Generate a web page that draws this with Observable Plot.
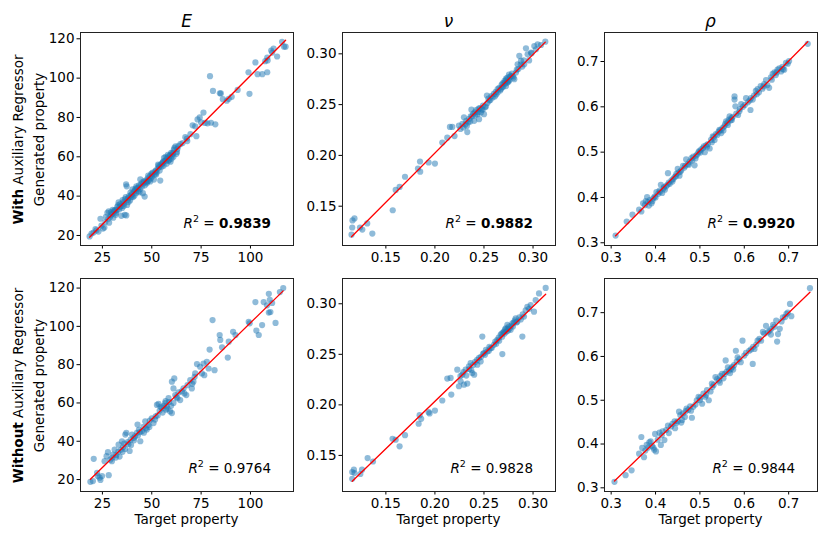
<!DOCTYPE html>
<html><head><meta charset="utf-8">
<script src="https://cdn.jsdelivr.net/npm/d3@7"></script>
<script src="https://cdn.jsdelivr.net/npm/@observablehq/plot@0.6"></script>
<style>
html,body{margin:0;padding:0;background:#fff;}
#fig{position:relative;width:831px;height:541px;overflow:hidden;background:#fff;font-family:"DejaVu Sans";}
#fig svg{position:absolute;}
</style></head><body><div id="fig"></div>
<script>
// ---------- labels ----------
const properties = ["E", "ν", "ρ"];
const rowNames = ["With", "Without"];
const r2With = ["0.9839", "0.9882", "0.9920"];
const r2Without = ["0.9764", "0.9828", "0.9844"];
const ticksE = [25, 50, 75, 100];
const yTicksE = [20, 40, 60, 80, 100, 120];
const ticksNu = [0.15, 0.20, 0.25, 0.30];
const ticksRho = [0.3, 0.4, 0.5, 0.6, 0.7];

// ---------- data: [target, generated] ----------
const eWith = [[18.5,19.5],[19.5,21],[20.5,21.5],[21.5,23.3],[22,22.6],[23,22],[24,28.5],[25.3,23.5],[26,24],[24.5,25],[26.5,26.8],[27.5,31.5],[28.2,32.3],[28.4,26.5],[28,28.5],[29,29.5],[29.5,30.5],[30,31],[30.5,29],[31,32],[31.5,33],[32,31.5],[32.5,34.5],[33,35.5],[33.5,33.2],[34,36],[34.6,30],[35,34],[35.5,37],[36,36.3],[36.3,30.5],[36.5,38.5],[37,46],[37.3,45],[37.1,30.2],[37.5,35.5],[38,39],[38.5,40],[39,37.8],[39.5,40.5],[40,41],[40.5,39.5],[41,42.3],[41.5,43],[42,41.5],[42.5,44],[43,42.5],[43.5,45.5],[44,43.5],[44.5,46],[45,44.8],[45.5,41.5],[46.4,39.8],[46,47.5],[46.5,45.5],[47,48],[47.5,46.5],[48,49],[48.5,48],[49,50],[49.5,49],[50,51],[50.5,52],[51.1,48.4],[51.5,51],[52,53],[52.5,52],[53,54],[53.5,55.5],[54.3,47.9],[54,53],[54.5,56],[55,55],[55.5,57],[56,55.5],[56.5,58],[57,60],[57.5,56.5],[58,59],[58.5,58],[59,60.5],[59.4,61],[59.5,57.5],[60,59],[60.5,62],[61.2,63.6],[61,60],[62,65.3],[62.5,61.5],[63,64],[64.5,66.5],[65.6,67],[67,70],[67.8,69.3],[68,68],[69.6,71.5],[70.7,76],[72,75.5],[72.6,70.5],[73.2,79],[74.3,80],[75,77.5],[76.2,82.5],[77,77.2],[78.2,77],[79.5,101],[80,77.3],[81,93.5],[82.2,76.5],[84.5,92.3],[85,92.2],[86,89.3],[88,88.5],[89,89.5],[90.5,90.5],[93.5,94],[99.5,92],[99,103],[102.5,108],[103.6,102],[106,102],[108.5,103],[107.5,108.6],[108.7,109],[108.5,110.5],[110.5,114],[111,113],[111.7,115],[113.5,111],[116,118.5],[117,116],[117.8,116],[30.2,33],[31.8,30.5],[33.2,36.8],[34.5,35],[35.2,38],[36.8,39.5],[38.2,37],[39.2,41.8],[40.2,43.5],[41.2,40.2],[42.2,45],[43.2,44.2],[44.2,48.5],[45.2,47],[47.2,47.2],[48.2,50.5],[49.2,47.5],[50.2,50],[52.2,51],[53.2,56],[55.2,56.5],[56.2,59.5],[57.2,58],[58.2,61],[60.2,60.5],[61.5,64.5],[62.8,62.5],[63.5,65.5],[26.8,29.5],[29.3,31.8],[30.8,32.5],[32.3,33],[33.8,34.5],[35.8,35],[37.8,38.2],[39.8,39.5],[41.8,43.8],[43.8,42],[45.8,46.5],[47.8,47.5],[49.8,51.5],[51.8,52.5],[53.8,54.8],[55.8,57.5],[57.8,59.5],[59.8,62],[60.8,61.5],[58.8,58.5]];

const nuWith = [[0.115,0.122],[0.1157,0.129],[0.116,0.136],[0.118,0.138],[0.1236,0.129],[0.126,0.127],[0.131,0.133],[0.1362,0.123],[0.157,0.146],[0.160,0.166],[0.164,0.169],[0.1695,0.179],[0.1827,0.187],[0.1848,0.194],[0.185,0.184],[0.1936,0.193],[0.200,0.192],[0.2075,0.2126],[0.2126,0.2175],[0.2153,0.228],[0.2177,0.228],[0.22,0.219],[0.2245,0.2294],[0.226,0.226],[0.228,0.231],[0.229,0.2275],[0.2296,0.2375],[0.231,0.2305],[0.232,0.234],[0.233,0.223],[0.234,0.2325],[0.235,0.236],[0.236,0.2335],[0.2372,0.245],[0.238,0.2385],[0.239,0.241],[0.24,0.234],[0.241,0.2395],[0.242,0.2445],[0.2434,0.2406],[0.244,0.2425],[0.245,0.2357],[0.246,0.2465],[0.2469,0.2423],[0.2486,0.245],[0.249,0.249],[0.25,0.2406],[0.251,0.2475],[0.252,0.2482],[0.253,0.259],[0.2535,0.2515],[0.2554,0.254],[0.2565,0.2545],[0.2575,0.2585],[0.2588,0.2571],[0.26,0.2605],[0.261,0.258],[0.262,0.2625],[0.2639,0.2653],[0.264,0.262],[0.2655,0.2665],[0.2665,0.264],[0.2673,0.2653],[0.268,0.2695],[0.269,0.271],[0.2695,0.2675],[0.2707,0.2716],[0.271,0.2735],[0.2715,0.2705],[0.2724,0.2683],[0.273,0.2745],[0.2735,0.2715],[0.274,0.2765],[0.2745,0.273],[0.275,0.2725],[0.2758,0.274],[0.2765,0.2775],[0.2775,0.278],[0.2792,0.278],[0.28,0.2765],[0.2809,0.275],[0.2826,0.2815],[0.2843,0.2897],[0.285,0.285],[0.286,0.298],[0.2877,0.293],[0.289,0.2875],[0.291,0.2897],[0.2928,0.3054],[0.2945,0.2995],[0.296,0.2935],[0.2979,0.3012],[0.3013,0.3077],[0.303,0.3045],[0.3047,0.3094],[0.3081,0.3087],[0.3125,0.312],[0.2325,0.229],[0.2365,0.2385],[0.2405,0.2425],[0.2445,0.246],[0.2475,0.2455],[0.2545,0.256],[0.2625,0.26],[0.2685,0.267],[0.2725,0.2755],[0.2755,0.2795],[0.2785,0.2805],[0.2835,0.2845],[0.2875,0.2895],[0.2905,0.2935],[0.2985,0.3005]];

const rhoWith = [[0.31,0.316],[0.335,0.347],[0.348,0.362],[0.363,0.373],[0.368,0.369],[0.372,0.387],[0.376,0.383],[0.378,0.392],[0.381,0.401],[0.383,0.39],[0.385,0.382],[0.387,0.394],[0.391,0.387],[0.395,0.398],[0.398,0.402],[0.402,0.412],[0.406,0.408],[0.409,0.415],[0.412,0.428],[0.415,0.41],[0.418,0.42],[0.421,0.417],[0.424,0.425],[0.427,0.428],[0.428,0.4535],[0.432,0.43],[0.436,0.438],[0.44,0.441],[0.443,0.445],[0.447,0.452],[0.45,0.463],[0.452,0.455],[0.454,0.448],[0.458,0.46],[0.462,0.47],[0.465,0.466],[0.469,0.484],[0.473,0.474],[0.477,0.479],[0.481,0.487],[0.485,0.49],[0.488,0.471],[0.491,0.492],[0.494,0.495],[0.497,0.5],[0.499,0.503],[0.503,0.506],[0.507,0.509],[0.511,0.5],[0.514,0.515],[0.518,0.518],[0.522,0.508],[0.525,0.527],[0.529,0.535],[0.533,0.527],[0.536,0.54],[0.539,0.538],[0.542,0.545],[0.544,0.549],[0.548,0.542],[0.551,0.553],[0.555,0.557],[0.557,0.562],[0.559,0.568],[0.562,0.565],[0.565,0.572],[0.567,0.579],[0.569,0.57],[0.571,0.575],[0.574,0.578],[0.578,0.623],[0.578,0.616],[0.58,0.601],[0.582,0.585],[0.586,0.582],[0.59,0.595],[0.593,0.606],[0.597,0.6],[0.601,0.604],[0.604,0.619],[0.608,0.61],[0.614,0.593],[0.615,0.619],[0.619,0.616],[0.622,0.625],[0.626,0.635],[0.63,0.639],[0.633,0.632],[0.637,0.646],[0.641,0.64],[0.645,0.65],[0.649,0.659],[0.652,0.648],[0.656,0.642],[0.66,0.665],[0.664,0.673],[0.668,0.676],[0.671,0.67],[0.675,0.682],[0.679,0.685],[0.683,0.678],[0.686,0.688],[0.69,0.682],[0.694,0.697],[0.698,0.695],[0.701,0.701],[0.743,0.739],[0.393,0.392],[0.4,0.4],[0.41,0.412],[0.419,0.423],[0.43,0.433],[0.438,0.435],[0.446,0.447],[0.456,0.457],[0.467,0.47],[0.475,0.472],[0.483,0.482],[0.49,0.486],[0.501,0.499],[0.509,0.513],[0.516,0.512],[0.527,0.522],[0.531,0.533],[0.546,0.548],[0.553,0.548],[0.563,0.56],[0.572,0.571],[0.589,0.59],[0.612,0.614],[0.628,0.628],[0.643,0.645],[0.662,0.66],[0.673,0.676],[0.687,0.683]];

const eWithout = [[18.9,18.8],[20.2,19.2],[20.6,30.8],[22.3,23.5],[22.6,21.8],[23.6,21],[24,19.8],[24.8,21.8],[28.2,22.3],[26.1,29.6],[27.1,32.2],[27.8,34.3],[29,30.4],[29.8,29.6],[30.5,33],[31.2,35.6],[32,32.8],[33.2,38.2],[33.7,32],[34.3,35.5],[34.9,40],[35.5,37],[36,38.8],[36.6,43.5],[37.1,44.4],[37.8,39.5],[38.8,34.9],[39.3,40.8],[40,43.5],[40.8,41.7],[41.5,42.5],[42.5,44.4],[42.8,48.7],[43.5,46],[44.2,40],[45,45.2],[45.8,47.5],[46.7,50.4],[47.5,46.1],[48.3,48.5],[49,50.8],[50,52],[50.9,49.5],[51.7,51.3],[52.6,59],[53.4,59.5],[54,56],[55.1,57.3],[56,58.5],[56.8,59.9],[57.6,58.2],[58.5,62.5],[59.3,55.6],[60.2,54.7],[60.2,71.1],[61.4,72.8],[61,67.6],[61.9,64.1],[62.5,63],[63.5,65.5],[64.4,61.5],[65.2,66],[66.1,67.6],[67.5,64.1],[68.1,69.3],[69.5,71.9],[70.3,67.6],[71.1,71.1],[71.7,73.7],[72,75.4],[72.9,80.3],[74.5,78.9],[75.4,75.4],[76.2,80.6],[76.6,74.5],[77.9,81.5],[78.8,78],[79.3,87.9],[81.8,77.1],[80.8,103.3],[84.4,95.5],[84.7,92.9],[85.6,89.1],[88.5,83.7],[89,92],[91.2,97.2],[92.4,95.5],[99.1,102.4],[99.6,101.6],[102.5,112.7],[103,97.8],[104.2,95.5],[105.9,100.7],[106.7,112.7],[108.4,111],[109.3,117],[109.8,113.9],[109.3,107.2],[110.1,107.5],[111,112.2],[112.7,101.8],[114.9,117.9],[116.6,120],[31.8,31.5],[35.2,34.5],[38.2,38.5],[41,40.5],[44,44.8],[47,46.8],[52,53],[55.5,55],[57.2,56.5],[58.8,60.5],[59.8,58.5],[30,31.5],[33,34.5],[36.5,36],[39.5,38],[43,43],[46,44.5],[48.8,47.5],[53,53.5],[54.5,58],[57,61],[58,57],[61,60],[63,62.5],[66.5,65],[70.5,70]];

const nuWithout = [[0.1157,0.1268],[0.1157,0.1336],[0.1174,0.1359],[0.118,0.1326],[0.124,0.1316],[0.1257,0.1359],[0.1314,0.1474],[0.1369,0.144],[0.1568,0.1665],[0.16,0.1655],[0.164,0.159],[0.1695,0.17],[0.1844,0.1898],[0.1834,0.1813],[0.186,0.1862],[0.1936,0.1928],[0.1946,0.1915],[0.2,0.1944],[0.2075,0.2043],[0.2167,0.2102],[0.2126,0.226],[0.216,0.2266],[0.2245,0.2184],[0.2262,0.2233],[0.2228,0.2348],[0.2296,0.22],[0.233,0.2211],[0.2279,0.2299],[0.2313,0.2348],[0.2347,0.2381],[0.2381,0.2315],[0.24,0.2299],[0.2364,0.2414],[0.2432,0.2397],[0.2466,0.243],[0.2483,0.2676],[0.25,0.2512],[0.2534,0.2528],[0.2568,0.2561],[0.2602,0.2594],[0.2636,0.2643],[0.2687,0.2502],[0.267,0.2692],[0.2704,0.2725],[0.2721,0.2758],[0.2738,0.2791],[0.2772,0.2742],[0.2789,0.2807],[0.2823,0.2856],[0.284,0.2823],[0.2891,0.2676],[0.2908,0.2873],[0.2942,0.297],[0.2976,0.2987],[0.301,0.2922],[0.3027,0.3036],[0.3061,0.3102],[0.3129,0.3157],[0.226,0.2285],[0.229,0.2325],[0.232,0.229],[0.235,0.2355],[0.237,0.2345],[0.239,0.2395],[0.241,0.2425],[0.243,0.2445],[0.245,0.2465],[0.247,0.2475],[0.249,0.2505],[0.251,0.2495],[0.252,0.2545],[0.255,0.2535],[0.2555,0.2575],[0.258,0.2565],[0.2615,0.2625],[0.2625,0.2605],[0.265,0.2665],[0.2655,0.2635],[0.268,0.2705],[0.2685,0.2675],[0.2695,0.2715],[0.271,0.2705],[0.2715,0.2745],[0.273,0.2725],[0.274,0.2755],[0.2745,0.2735],[0.2755,0.2775],[0.276,0.2755],[0.278,0.2785],[0.2795,0.2775],[0.2805,0.2815],[0.2815,0.2835],[0.283,0.2815],[0.286,0.2865],[0.2875,0.2845],[0.2895,0.2895],[0.2925,0.2935],[0.296,0.295]];

const rhoWithout = [[0.3075,0.3136],[0.3325,0.3288],[0.346,0.34],[0.363,0.378],[0.368,0.416],[0.37,0.391],[0.374,0.37],[0.38,0.398],[0.386,0.404],[0.389,0.406],[0.397,0.387],[0.401,0.383],[0.399,0.423],[0.409,0.426],[0.412,0.398],[0.42,0.409],[0.416,0.429],[0.428,0.442],[0.435,0.44],[0.444,0.436],[0.447,0.448],[0.453,0.474],[0.458,0.449],[0.462,0.47],[0.47,0.481],[0.482,0.46],[0.485,0.485],[0.497,0.508],[0.505,0.492],[0.512,0.508],[0.516,0.523],[0.52,0.5],[0.527,0.538],[0.535,0.553],[0.543,0.545],[0.55,0.56],[0.558,0.591],[0.566,0.568],[0.573,0.576],[0.581,0.613],[0.585,0.598],[0.592,0.587],[0.596,0.636],[0.6,0.602],[0.611,0.613],[0.619,0.583],[0.623,0.617],[0.63,0.636],[0.638,0.636],[0.642,0.656],[0.649,0.67],[0.657,0.659],[0.661,0.663],[0.672,0.682],[0.674,0.634],[0.676,0.651],[0.68,0.663],[0.687,0.689],[0.695,0.697],[0.703,0.72],[0.706,0.692],[0.748,0.756],[0.383,0.392],[0.392,0.396],[0.405,0.41],[0.424,0.432],[0.438,0.446],[0.45,0.452],[0.456,0.466],[0.466,0.462],[0.474,0.478],[0.478,0.486],[0.49,0.49],[0.493,0.5],[0.501,0.506],[0.508,0.515],[0.524,0.52],[0.531,0.535],[0.539,0.548],[0.546,0.555],[0.553,0.55],[0.56,0.565],[0.563,0.575],[0.57,0.572],[0.577,0.58],[0.589,0.594],[0.604,0.608],[0.615,0.616],[0.627,0.627],[0.634,0.64],[0.645,0.652],[0.653,0.655],[0.665,0.672],[0.684,0.68],[0.698,0.7],[0.377,0.385],[0.395,0.392],[0.414,0.42],[0.43,0.425],[0.443,0.452],[0.46,0.455],[0.468,0.475],[0.48,0.476],[0.5,0.5],[0.514,0.512],[0.528,0.53],[0.545,0.54],[0.556,0.56],[0.568,0.562],[0.575,0.57],[0.583,0.588],[0.62,0.622],[0.66,0.65],[0.668,0.668],[0.692,0.69]];

// ---------- layout ----------
const S = 213, ML = 50, MR = 6, MT = 8, MB = 30;
const colLeft = [80, 342, 604];
const rowTop = [32, 278];
const fig = document.getElementById("fig");

const specs = [
  {data: eWith, row: 0, col: 0, xd: [13.9, 121.8], yd: [14.9, 123.2], xt: ticksE, yt: yTicksE, xf: d3.format("d"), yf: d3.format("d"), r2: r2With[0], bold: true},
  {data: nuWith, row: 0, col: 1, xd: [0.1058, 0.3229], yd: [0.1113, 0.321], xt: ticksNu, yt: ticksNu, xf: d3.format(".2f"), yf: d3.format(".2f"), r2: r2With[1], bold: true},
  {data: rhoWith, row: 0, col: 2, xd: [0.285, 0.765], yd: [0.294, 0.764], xt: ticksRho, yt: ticksRho, xf: d3.format(".1f"), yf: d3.format(".1f"), r2: r2With[2], bold: true},
  {data: eWithout, row: 1, col: 0, xd: [13.9, 121.8], yd: [13.76, 125.0], xt: ticksE, yt: yTicksE, xf: d3.format("d"), yf: d3.format("d"), r2: r2Without[0], bold: false},
  {data: nuWithout, row: 1, col: 1, xd: [0.1058, 0.3229], yd: [0.1143, 0.325], xt: ticksNu, yt: ticksNu, xf: d3.format(".2f"), yf: d3.format(".2f"), r2: r2Without[1], bold: false},
  {data: rhoWithout, row: 1, col: 2, xd: [0.285, 0.765], yd: [0.2916, 0.778], xt: ticksRho, yt: ticksRho, xf: d3.format(".1f"), yf: d3.format(".1f"), r2: r2Without[2], bold: false}
];

for (const s of specs) {
  const p = Plot.plot({
    width: S + ML + MR, height: S + MT + MB,
    marginLeft: ML, marginRight: MR, marginTop: MT, marginBottom: MB,
    style: {fontFamily: "DejaVu Sans", fontSize: "13.5px", background: "transparent", color: "#000", overflow: "visible"},
    x: {domain: s.xd, ticks: s.xt, tickFormat: s.xf, tickSize: 3.5, tickPadding: 3.5, label: null},
    y: {domain: s.yd, ticks: s.yt, tickFormat: s.yf, tickSize: 3.5, tickPadding: 2.5, label: null},
    marks: [
      Plot.dot(s.data, {x: d => d[0], y: d => d[1], r: 3.1, fill: "#1f77b4", fillOpacity: 0.5}),
      Plot.linearRegressionY(s.data, {x: d => d[0], y: d => d[1], stroke: "#ff0000", strokeWidth: 1.3, ci: 0}),
      Plot.frame({stroke: "#222", strokeWidth: 1})
    ]
  });
  p.style.left = (colLeft[s.col] - ML) + "px";
  p.style.top = (rowTop[s.row] - MT) + "px";
  const t = d3.select(p).append("text")
    .attr("x", ML + S - 22).attr("y", MT + S - (s.row === 0 ? 17 : 18))
    .attr("text-anchor", "end").attr("font-size", 13.5).attr("fill", "#000")
    .attr("font-family", "DejaVu Sans");
  t.append("tspan").attr("font-style", "italic").text("R");
  t.append("tspan").attr("font-size", 9.5).attr("dy", -6.5).text("2");
  t.append("tspan").attr("dy", 6.5).text(" = ");
  t.append("tspan").attr("font-weight", s.bold ? "bold" : "normal").text(s.r2);
  fig.appendChild(p);
}

// ---------- overlay text: titles, row labels, axis labels ----------
const ov = d3.select(fig).append("svg").attr("width", 831).attr("height", 541)
  .style("left", "0px").style("top", "0px")
  .attr("font-family", "DejaVu Sans").attr("fill", "#000");

properties.forEach((name, i) => {
  ov.append("text").attr("x", colLeft[i] + S / 2).attr("y", 26.5)
    .attr("text-anchor", "middle").attr("font-size", 17).attr("font-style", "italic").text(name);
  ov.append("text").attr("x", colLeft[i] + S / 2).attr("y", 523.5)
    .attr("text-anchor", "middle").attr("font-size", 13.5).text("Target property");
});

rowNames.forEach((name, r) => {
  const cy = rowTop[r] + S / 2 + 1;
  ov.append("text").attr("transform", `translate(44,${cy}) rotate(-90)`)
    .attr("text-anchor", "middle").attr("font-size", 13.5).text("Generated property");
  const t = ov.append("text").attr("transform", `translate(23,${cy}) rotate(-90)`)
    .attr("text-anchor", "middle").attr("font-size", 13.5);
  t.append("tspan").attr("font-weight", "bold").text(name);
  t.append("tspan").text(" Auxiliary Regressor");
});
</script></body></html>
